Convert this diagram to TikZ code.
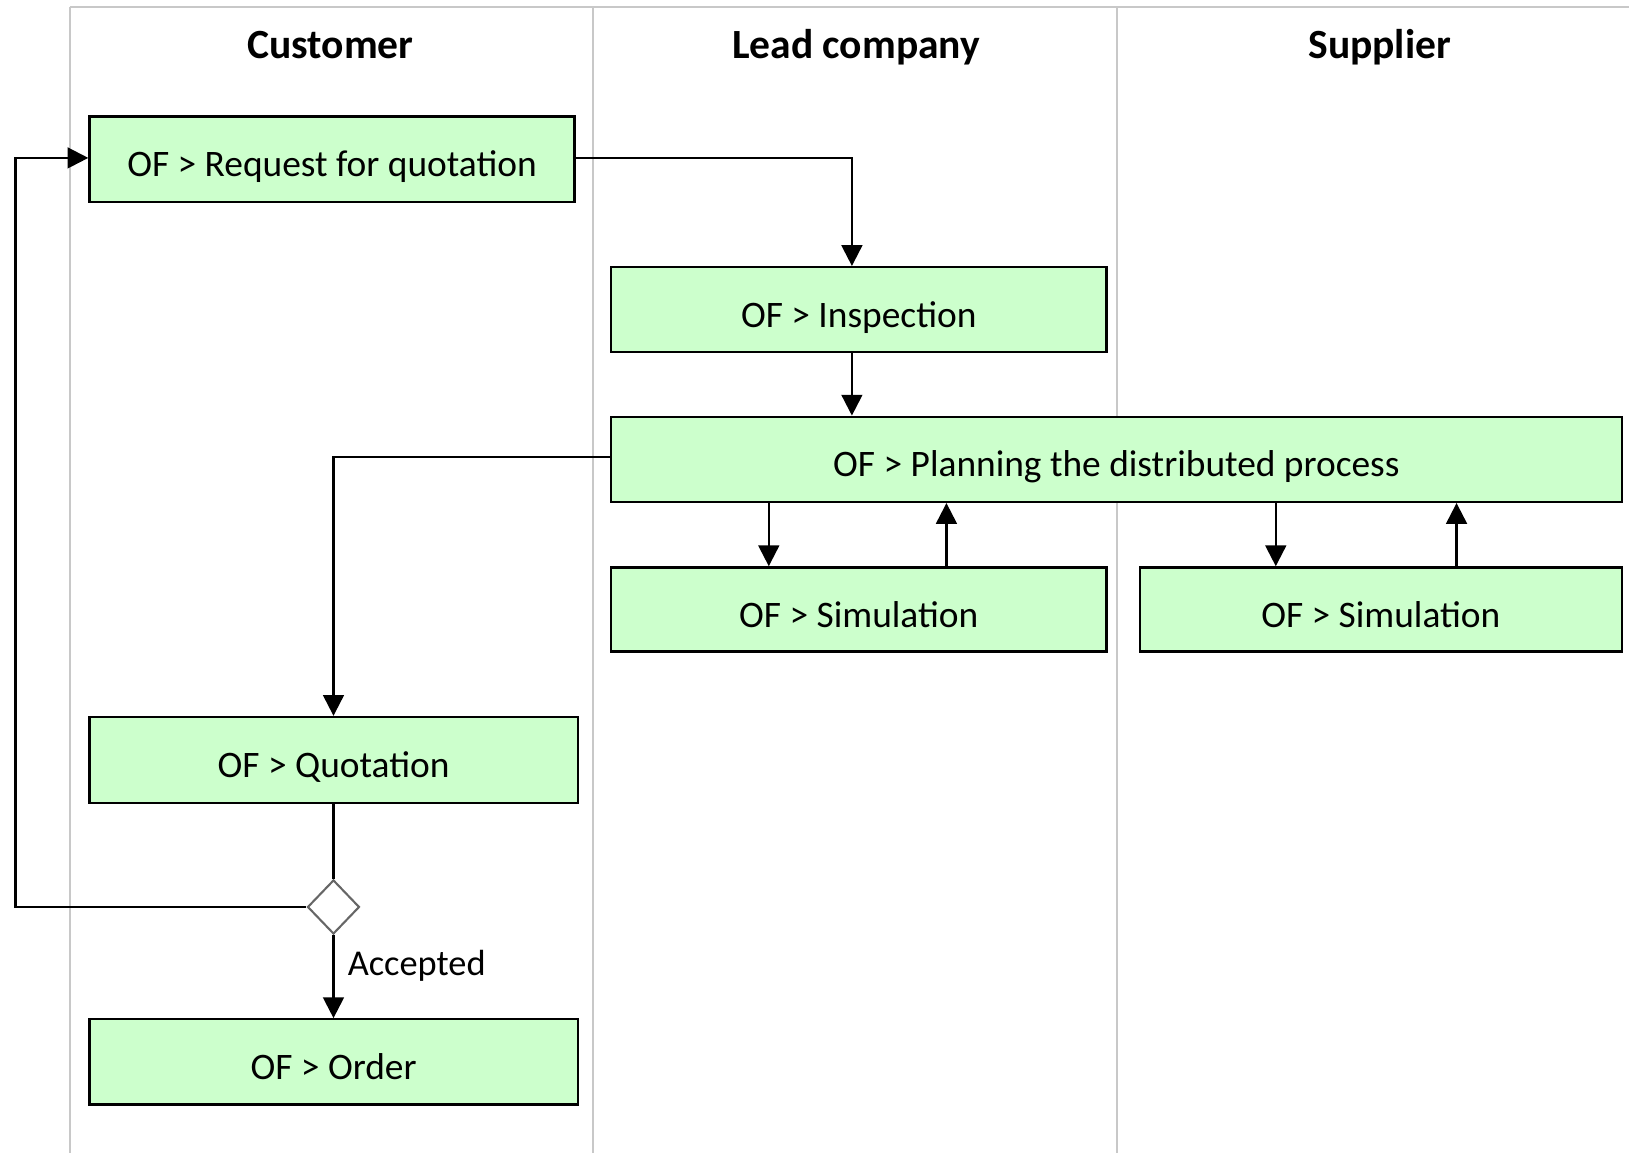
\documentclass[tikz,border=0pt]{standalone}
\usepackage{fontspec}
\setmainfont{Carlito}
\usetikzlibrary{arrows.meta,shapes.geometric}
\definecolor{boxfill}{HTML}{CCFFCC}
\definecolor{laneline}{HTML}{C8C8C8}
\begin{document}
\begin{tikzpicture}[x=0.5pt,y=-0.5pt,
  task/.style={draw=black,line width=1.1pt,fill=boxfill,font=\fontsize{18}{21}\selectfont,
    anchor=north west,inner sep=0pt,align=center,text height=17.5pt,text depth=0.5pt},
  lanehead/.style={font=\bfseries\fontsize{20}{24}\selectfont,anchor=base},
  flow/.style={line width=1.1pt,-{Triangle[width=10pt,length=10pt]}},
  plain/.style={line width=1.1pt},
  gate/.style={diamond,draw=black!60,fill=white,line width=1pt,inner sep=0pt,
    minimum width=25pt,minimum height=26pt}]
  \useasboundingbox (0,0) rectangle (1568,1110);
  % swimlane frame
  \draw[laneline,line width=1pt] (67,7) -- (1568,7);
  \foreach \lx in {67,571,1075} \draw[laneline,line width=1pt] (\lx,7) -- (\lx,1110);
  \node[lanehead] (hcust) at (318,56) {Customer};
  \node[lanehead] (hlead) at (824,56) {Lead company};
  \node[lanehead] (hsupp) at (1328,56) {Supplier};
  % activities
  \node[task,minimum width=233.5pt,minimum height=41pt] (rfq) at (85,111) {OF > Request for quotation};
  \node[task,minimum width=238.5pt,minimum height=41pt] (insp) at (587,256) {OF > Inspection};
  \node[task,minimum width=486.5pt,minimum height=41pt] (plan) at (587,400) {OF > Planning the distributed process};
  \node[task,minimum width=238.5pt,minimum height=40.5pt] (sima) at (587,545) {OF > Simulation};
  \node[task,minimum width=232pt,minimum height=40.5pt] (simb) at (1096,545) {OF > Simulation};
  \node[task,minimum width=235pt,minimum height=41.5pt] (quot) at (85,689) {OF > Quotation};
  \node[task,minimum width=235pt,minimum height=41pt] (order) at (85,980) {OF > Order};
  \node[gate] (dec) at (321,873) {};
  \coordinate (loopl) at (15,873);
  % connectors
  \draw[flow] (rfq.east |- 0,152) -| (insp.north -| 820,0);
  \draw[flow] (insp.south -| 820,0) -- (plan.north -| 820,0);
  \draw[flow] (plan.west |- 0,440) -| (quot.north -| 321,0);
  \draw[flow] (plan.south -| 740,0) -- (sima.north -| 740,0);
  \draw[flow] (sima.north -| 911,0) -- (plan.south -| 911,0);
  \draw[flow] (plan.south -| 1228,0) -- (simb.north -| 1228,0);
  \draw[flow] (simb.north -| 1402,0) -- (plan.south -| 1402,0);
  \draw[plain] (quot.south -| 321,0) -- (dec.north);
  \draw[flow] (dec.south) -- node[right,xshift=3pt,yshift=5pt,font=\fontsize{17.5}{21}\selectfont] {Accepted} (order.north -| 321,0);
  \draw[flow] (dec.west) -- (loopl) |- (rfq.west |- 0,152);
\end{tikzpicture}
\end{document}
